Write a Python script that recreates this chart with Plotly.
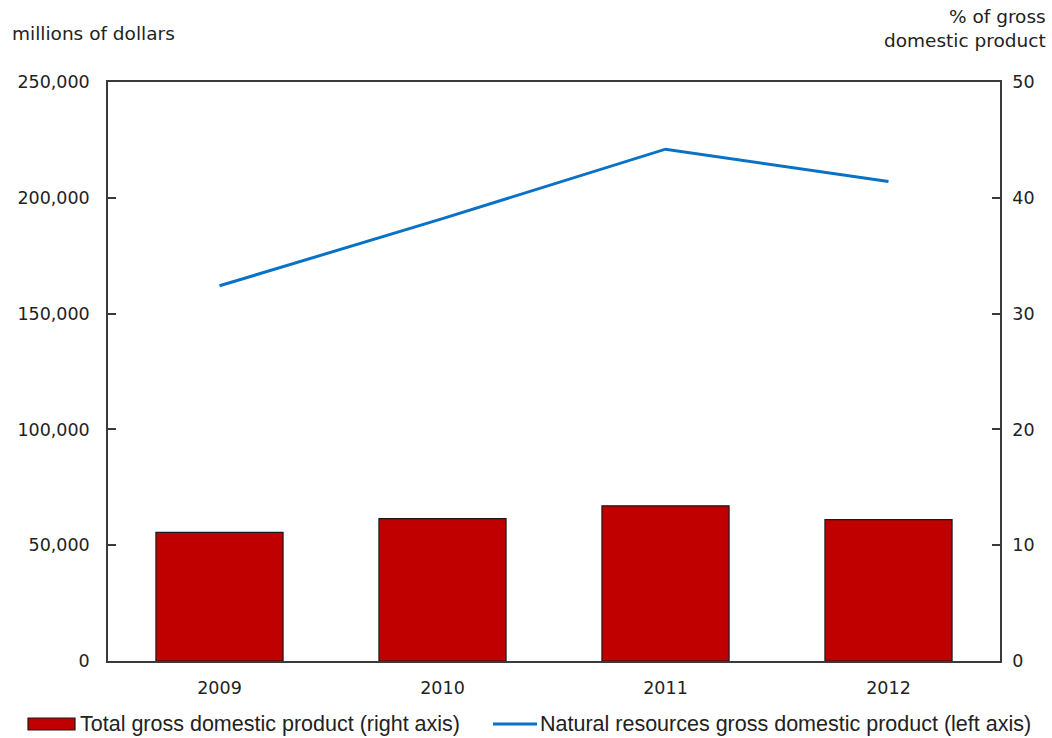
import plotly.graph_objects as go

# Data
years = ["2009", "2010", "2011", "2012"]
total_gdp_pct = [11.1, 12.3, 13.4, 12.2]                 # right axis, % of GDP
natural_resources_gdp = [162000, 191000, 221000, 207000]  # left axis, millions of dollars

left_ticks = [0, 50000, 100000, 150000, 200000, 250000]
right_ticks = [0, 10, 20, 30, 40, 50]

bar_label = "Total gross domestic product (right axis)"
line_label = "Natural resources gross domestic product (left axis)"

BAR_COLOR = "#C00000"
LINE_COLOR = "#0A72C6"
AXIS_COLOR = "#3a3a3a"
TEXT_COLOR = "#222222"
FONT = "DejaVu Sans, Verdana, sans-serif"
LEGEND_FONT = "Liberation Sans Narrow, Arial Narrow, Liberation Sans, sans-serif"

fig = go.Figure()

fig.add_trace(go.Bar(
    x=years, y=total_gdp_pct, name=bar_label, yaxis="y2",
    marker=dict(color=BAR_COLOR, line=dict(color="#1a1a1a", width=1.2)),
    showlegend=False,
))

fig.add_trace(go.Scatter(
    x=years, y=natural_resources_gdp, name=line_label, yaxis="y",
    mode="lines", line=dict(color=LINE_COLOR, width=3),
    showlegend=False,
))

fig.update_layout(
    width=1052, height=738,
    margin=dict(l=108, r=52, t=82, b=77),
    paper_bgcolor="white", plot_bgcolor="white",
    font=dict(family=FONT, size=17.5, color=TEXT_COLOR),
    bargap=0.43,
    xaxis=dict(
        showline=True, linecolor=AXIS_COLOR, linewidth=1.5, mirror=True,
        ticks="", showgrid=False, ticklabelstandoff=10,
    ),
    yaxis=dict(
        range=[0, 250000], tickvals=left_ticks, tickformat=",",
        showline=True, linecolor=AXIS_COLOR, linewidth=1.5,
        ticks="inside", ticklen=8, tickcolor=AXIS_COLOR, tickwidth=1.5,
        showgrid=False, zeroline=False, ticklabelstandoff=13,
    ),
    yaxis2=dict(
        range=[0, 50], tickvals=right_ticks, overlaying="y", side="right",
        showline=True, linecolor=AXIS_COLOR, linewidth=1.5,
        ticks="inside", ticklen=8, tickcolor=AXIS_COLOR, tickwidth=1.5,
        showgrid=False, zeroline=False, ticklabelstandoff=7,
    ),
)

# Axis unit labels
fig.add_annotation(
    text="millions of dollars", xref="paper", yref="paper",
    x=-98 / 892, y=1 + 49 / 579, xanchor="left", yanchor="middle",
    showarrow=False, font=dict(size=18.5),
)
fig.add_annotation(
    text="% of gross<br>domestic product", xref="paper", yref="paper",
    x=1 + 48 / 892, y=1 + 53 / 579, xanchor="right", yanchor="middle",
    align="right", showarrow=False, font=dict(size=18.5),
)

# Legend drawn below the plot
ly = -63 / 579
fig.add_shape(
    type="rect", xref="paper", yref="paper",
    x0=-80 / 892, x1=-33 / 892, y0=ly - 6 / 579, y1=ly + 6 / 579,
    fillcolor=BAR_COLOR, line=dict(color="#1a1a1a", width=1.2),
)
fig.add_annotation(
    text=bar_label, xref="paper", yref="paper",
    x=-30 / 892, y=ly, xanchor="left", yanchor="middle",
    showarrow=False, font=dict(family=LEGEND_FONT, size=21.5),
)
fig.add_shape(
    type="line", xref="paper", yref="paper",
    x0=385 / 892, x1=429 / 892, y0=ly, y1=ly,
    line=dict(color=LINE_COLOR, width=3),
)
fig.add_annotation(
    text=line_label, xref="paper", yref="paper",
    x=430 / 892, y=ly, xanchor="left", yanchor="middle",
    showarrow=False, font=dict(family=LEGEND_FONT, size=21.5),
)

fig.write_html("out.html")
